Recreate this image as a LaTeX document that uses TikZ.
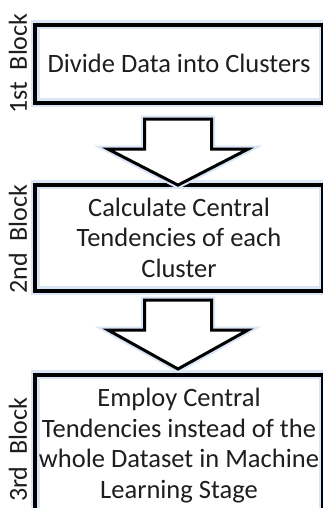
\documentclass[tikz,border=0pt]{standalone}
\usepackage{fontspec}
\setmainfont{Carlito}
\usetikzlibrary{calc}
\definecolor{glow}{RGB}{218,230,246}
\definecolor{ink}{RGB}{30,30,30}
\begin{document}
\begin{tikzpicture}[x=1pt,y=-1pt,
  blockbox/.style={rectangle, draw=black, line width=4pt,
    preaction={draw=glow, line width=9pt},
    inner sep=0pt, align=center, text=ink,
    font=\fontsize{26.5}{30.5}\selectfont, minimum width=288pt},
  sidelabel/.style={rotate=90, inner sep=0pt, text=ink,
    font=\fontsize{26}{30}\selectfont},
  blockarrow/.style={draw=black, fill=white, line width=3pt,
    line join=miter, preaction={draw=glow, line width=7pt}}]
\useasboundingbox (0,0) rectangle (323,508);
\fill[white] (0,0) rectangle (323,508);

\node[blockbox, minimum height=78pt] (b1) at (179,63.6) {Divide Data into Clusters};
\node[blockbox, minimum height=106pt] (b2) at (179,237.5) {Calculate Central\\Tendencies of each\\Cluster};
\node[blockbox, minimum height=142pt] (b3) at (179,445.5) {Employ Central\\Tendencies instead of the\\whole Dataset in Machine\\Learning Stage};

\node[sidelabel] (l1) at (18,63.5) {1st\hspace{0.45em}Block};
\node[sidelabel] (l2) at (18,239) {2nd\hspace{0.45em}Block};
\node[sidelabel] (l3) at (18,450) {3rd\hspace{0.45em}Block};

\draw[blockarrow] ($(b1.south)+(-34.5,14.5)$) -- ($(b1.south)+(32.5,14.5)$)
  -- ($(b1.south)+(32.5,44.5)$) -- ($(b1.south)+(69,44.5)$)
  -- ($(b1.south)+(-1,80.5)$) -- ($(b1.south)+(-71,44.5)$)
  -- ($(b1.south)+(-34.5,44.5)$) -- cycle;
\draw[blockarrow] ($(b2.south)+(-34.5,7.5)$) -- ($(b2.south)+(32.5,7.5)$)
  -- ($(b2.south)+(32.5,37.5)$) -- ($(b2.south)+(69,37.5)$)
  -- ($(b2.south)+(-1,76.5)$) -- ($(b2.south)+(-71,37.5)$)
  -- ($(b2.south)+(-34.5,37.5)$) -- cycle;
\end{tikzpicture}
\end{document}
